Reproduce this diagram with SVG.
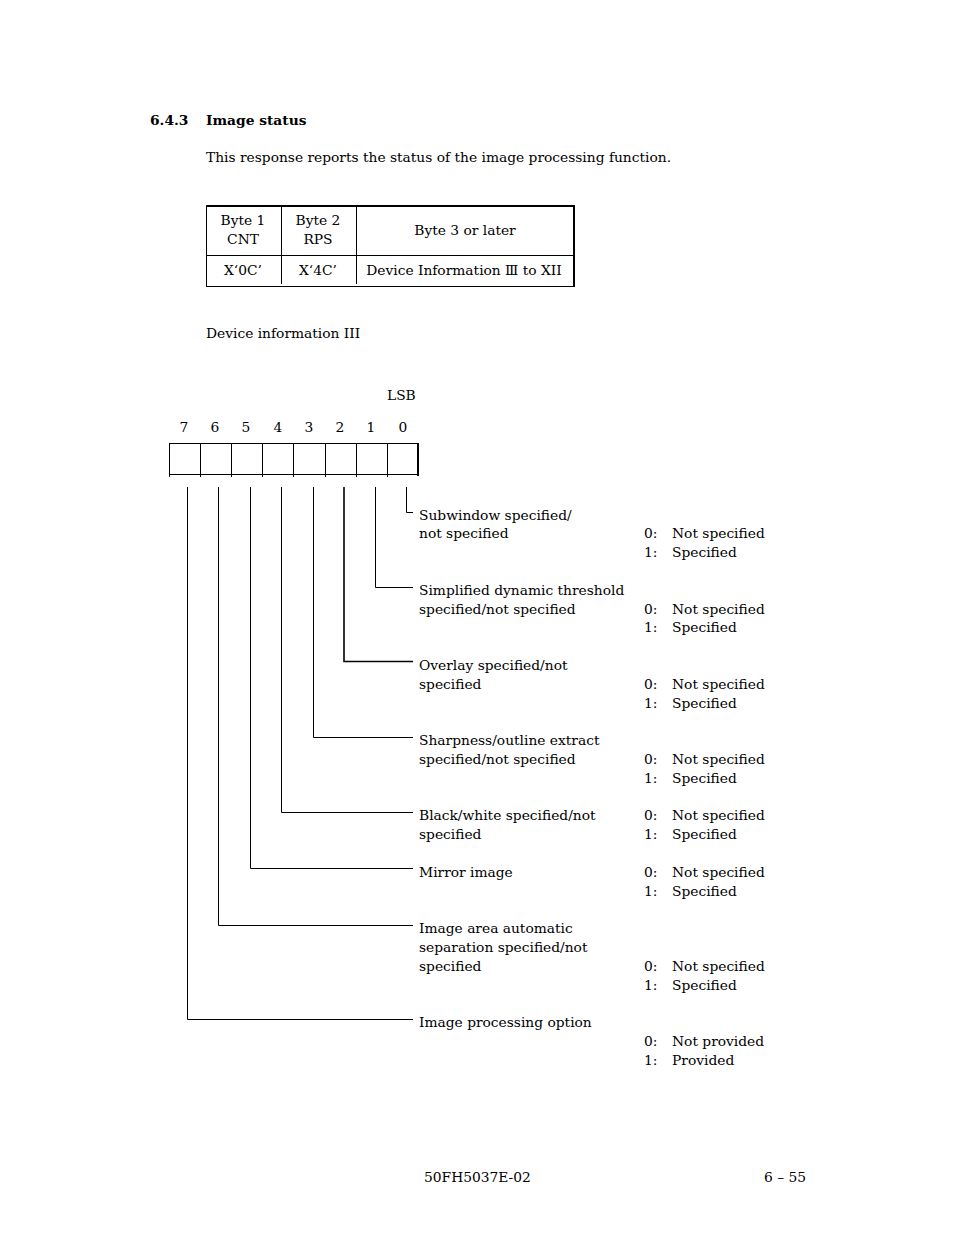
<svg xmlns="http://www.w3.org/2000/svg" width="954" height="1235" viewBox="0 0 954 1235">
<style>
text{font-family:"DejaVu Serif","Liberation Serif",serif;font-size:13.8px;fill:#000}
.b{font-weight:bold}
.c{text-anchor:middle}
.ln{stroke:#000;stroke-width:1;fill:none}
.th{stroke:#000;stroke-width:2;fill:none}
.md{stroke:#000;stroke-width:1.6;fill:none}
</style>
<rect width="954" height="1235" fill="#fff"/>
<g id="heading">
<text x="150" y="125" class="b">6.4.3</text>
<text x="206" y="125" class="b">Image status</text>
<text x="206" y="162">This response reports the status of the image processing function.</text>
</g>
<g id="table">
<line class="th" x1="206" y1="206" x2="575" y2="206"/>
<line class="ln" x1="206.5" y1="206" x2="206.5" y2="286"/>
<line class="th" x1="574" y1="206" x2="574" y2="287"/>
<line class="ln" x1="206" y1="286.5" x2="575" y2="286.5"/>
<line class="ln" x1="206" y1="255.5" x2="574" y2="255.5"/>
<line class="ln" x1="281.5" y1="206" x2="281.5" y2="284"/>
<line class="ln" x1="356.5" y1="206" x2="356.5" y2="284"/>
<text x="243" y="225" class="c">Byte 1</text>
<text x="243" y="244" class="c">CNT</text>
<text x="318" y="225" class="c">Byte 2</text>
<text x="318" y="244" class="c">RPS</text>
<text x="465" y="235" class="c">Byte 3 or later</text>
<text x="243" y="275" class="c">X‘0C’</text>
<text x="318" y="275" class="c">X‘4C’</text>
<text x="464" y="275" class="c">Device Information Ⅲ to XII</text>
</g>
<text x="206" y="338">Device information III</text>
<g id="register">
<text x="387" y="400">LSB</text>
<text x="184" y="432" class="c">7</text>
<text x="215" y="432" class="c">6</text>
<text x="246" y="432" class="c">5</text>
<text x="278" y="432" class="c">4</text>
<text x="309" y="432" class="c">3</text>
<text x="340" y="432" class="c">2</text>
<text x="371" y="432" class="c">1</text>
<text x="403" y="432" class="c">0</text>
<rect class="ln" x="169.5" y="443.5" width="249" height="31"/>
<line class="th" x1="418" y1="443" x2="418" y2="476"/>
<path class="ln" d="M200.5 443V477M231.5 443V477M262.5 443V477M293.5 443V477M325.5 443V477M356.5 443V477M387.5 443V477M169.5 475V477"/>
</g>
<g id="connectors">
<path class="ln" d="M406.5 487V512.5H413"/>
<path class="ln" d="M375.5 487V587.5H413"/>
<path class="md" d="M344 487V661.5H413"/>
<path class="ln" d="M313.5 487V737.5H413"/>
<path class="ln" d="M281.5 487V812.5H413"/>
<path class="ln" d="M250.5 487V868.5H413"/>
<path class="ln" d="M218.5 487V925.5H413"/>
<path class="ln" d="M187.5 487V1019.5H413"/>
</g>
<g id="bit0">
<text x="419" y="520">Subwindow specified/</text>
<text x="419" y="538">not specified</text>
<text x="644" y="538">0:</text><text x="672" y="538">Not specified</text>
<text x="644" y="557">1:</text><text x="672" y="557">Specified</text>
</g>
<g id="bit1">
<text x="419" y="595">Simplified dynamic threshold</text>
<text x="419" y="614">specified/not specified</text>
<text x="644" y="614">0:</text><text x="672" y="614">Not specified</text>
<text x="644" y="632">1:</text><text x="672" y="632">Specified</text>
</g>
<g id="bit2">
<text x="419" y="670">Overlay specified/not</text>
<text x="419" y="689">specified</text>
<text x="644" y="689">0:</text><text x="672" y="689">Not specified</text>
<text x="644" y="708">1:</text><text x="672" y="708">Specified</text>
</g>
<g id="bit3">
<text x="419" y="745">Sharpness/outline extract</text>
<text x="419" y="764">specified/not specified</text>
<text x="644" y="764">0:</text><text x="672" y="764">Not specified</text>
<text x="644" y="783">1:</text><text x="672" y="783">Specified</text>
</g>
<g id="bit4">
<text x="419" y="820">Black/white specified/not</text>
<text x="419" y="839">specified</text>
<text x="644" y="820">0:</text><text x="672" y="820">Not specified</text>
<text x="644" y="839">1:</text><text x="672" y="839">Specified</text>
</g>
<g id="bit5">
<text x="419" y="877">Mirror image</text>
<text x="644" y="877">0:</text><text x="672" y="877">Not specified</text>
<text x="644" y="896">1:</text><text x="672" y="896">Specified</text>
</g>
<g id="bit6">
<text x="419" y="933">Image area automatic</text>
<text x="419" y="952">separation specified/not</text>
<text x="419" y="971">specified</text>
<text x="644" y="971">0:</text><text x="672" y="971">Not specified</text>
<text x="644" y="990">1:</text><text x="672" y="990">Specified</text>
</g>
<g id="bit7">
<text x="419" y="1027">Image processing option</text>
<text x="644" y="1046">0:</text><text x="672" y="1046">Not provided</text>
<text x="644" y="1065">1:</text><text x="672" y="1065">Provided</text>
</g>
<g id="footer">
<text x="424" y="1182">50FH5037E-02</text>
<text x="806" y="1182" text-anchor="end">6 – 55</text>
</g>
</svg>
